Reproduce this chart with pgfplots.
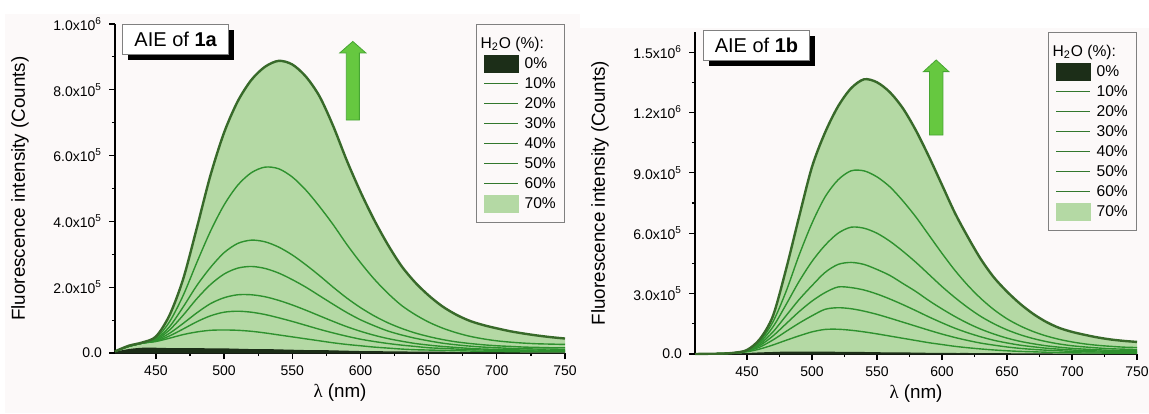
\documentclass[border=0pt]{standalone}
\usepackage{fontspec}
\setmainfont{Liberation Sans}
\newfontfamily\lamfont{Liberation Serif}
\usepackage{pgfplots}
\usepackage{pgfplotstable}
\pgfplotsset{compat=1.18}
\usetikzlibrary{shadows}

\definecolor{bgc}{RGB}{252,249,249}
\definecolor{fillg}{RGB}{180,217,164}
\definecolor{edgeg}{RGB}{56,106,42}
\definecolor{lineg}{RGB}{46,145,46}
\definecolor{legl}{RGB}{50,120,45}
\definecolor{darkf}{RGB}{28,46,24}
\definecolor{arrowg}{RGB}{102,200,64}
\definecolor{arrowe}{RGB}{70,165,50}
\definecolor{frameg}{RGB}{128,128,128}

% intensities in units of 10^6 counts; columns = H2O fraction
\pgfplotstableread{
lam s0 s10 s20 s30 s40 s50 s60 s70
420 .004 .005 .005 .005 .005 .005 .005 .005
430 .012 .020 .020 .020 .020 .020 .021 .022
440 .016 .030 .030 .030 .030 .030 .031 .032
450 .016 .035 .036 .038 .040 .042 .045 .050
460 .015 .045 .052 .060 .070 .080 .095 .115
470 .015 .056 .073 .090 .115 .140 .175 .225
480 .015 .064 .095 .122 .165 .205 .275 .380
490 .014 .069 .113 .150 .208 .260 .370 .540
500 .014 .070 .124 .168 .240 .305 .450 .670
510 .013 .069 .127 .177 .258 .333 .510 .765
520 .012 .066 .124 .177 .263 .343 .548 .830
530 .012 .061 .117 .171 .257 .338 .565 .870
540 .011 .055 .107 .160 .243 .322 .560 .888
550 .010 .049 .096 .146 .223 .298 .535 .877
560 .009 .043 .084 .130 .200 .268 .495 .840
570 .009 .037 .072 .113 .174 .235 .445 .780
580 .008 .031 .061 .096 .148 .200 .390 .690
590 .007 .026 .051 .080 .123 .167 .330 .585
600 .006 .022 .042 .066 .101 .138 .275 .490
610 .006 .018 .035 .054 .083 .113 .225 .405
620 .005 .015 .029 .044 .067 .092 .182 .330
630 .005 .012 .024 .036 .055 .075 .145 .265
640 .004 .010 .020 .029 .045 .061 .117 .215
650 .004 .009 .016 .024 .037 .050 .094 .175
660 .004 .008 .014 .020 .030 .041 .076 .142
670 .003 .007 .012 .017 .025 .034 .062 .117
680 .003 .006 .010 .014 .021 .029 .051 .098
690 .003 .005 .009 .012 .018 .025 .043 .085
700 .003 .005 .008 .011 .016 .022 .037 .075
710 .003 .004 .007 .010 .014 .020 .033 .066
720 .002 .004 .007 .009 .013 .018 .030 .059
730 .002 .004 .006 .009 .012 .017 .028 .053
740 .002 .004 .006 .008 .012 .016 .027 .048
750 .002 .004 .006 .008 .011 .016 .026 .044
}\taba

\pgfplotstableread{
lam s0 s10 s20 s30 s40 s50 s60 s70
410 .000 .000 .000 .000 .000 .000 .000 .000
420 .000 .001 .001 .001 .001 .001 .001 .001
430 .001 .002 .002 .002 .002 .002 .002 .002
440 .002 .004 .005 .006 .006 .006 .006 .006
450 .005 .011 .014 .016 .017 .018 .019 .020
460 .008 .025 .035 .043 .050 .058 .065 .075
470 .010 .045 .070 .090 .110 .135 .160 .190
480 .012 .068 .112 .150 .190 .245 .310 .420
490 .012 .090 .153 .210 .270 .360 .490 .680
500 .012 .110 .190 .263 .340 .460 .650 .930
510 .012 .122 .222 .305 .405 .540 .780 1.100
520 .011 .123 .230 .333 .445 .600 .865 1.230
530 .011 .118 .225 .330 .455 .630 .910 1.320
540 .010 .110 .213 .318 .445 .625 .910 1.365
550 .009 .100 .197 .298 .420 .600 .880 1.350
560 .008 .089 .178 .273 .390 .560 .830 1.300
570 .008 .078 .158 .245 .350 .510 .760 1.220
580 .007 .067 .138 .215 .310 .455 .680 1.110
590 .006 .056 .118 .184 .265 .395 .590 .980
600 .006 .047 .099 .155 .224 .335 .500 .840
610 .005 .038 .082 .128 .186 .280 .415 .700
620 .005 .031 .067 .105 .152 .230 .340 .580
630 .004 .025 .054 .085 .123 .186 .275 .470
640 .004 .020 .044 .068 .099 .150 .220 .380
650 .004 .016 .035 .055 .079 .120 .175 .310
660 .003 .013 .028 .044 .063 .096 .140 .250
670 .003 .011 .023 .036 .051 .077 .112 .200
680 .003 .009 .019 .029 .041 .062 .090 .160
690 .002 .007 .016 .024 .034 .050 .073 .130
700 .002 .006 .013 .020 .028 .041 .060 .110
710 .002 .005 .011 .017 .024 .035 .050 .095
720 .002 .005 .010 .015 .021 .030 .043 .082
730 .002 .004 .009 .013 .018 .026 .038 .072
740 .002 .004 .008 .012 .017 .024 .034 .065
750 .002 .004 .008 .011 .016 .022 .032 .060
}\tabb

\pgfplotsset{
  myaxis/.style={
    scale only axis,
    clip=false,
    axis lines*=left,
    axis line style={line width=0.7pt, black},
    tick align=outside,
    major tick length=3pt, minor tick length=1.6pt,
    every tick/.style={line width=0.6pt, black},
    xtick={450,500,...,750},
    minor x tick num=1,
    minor y tick num=1,
    xmax=750, ymin=0,
    tick label style={font=\fontsize{7}{8}\selectfont},
    /pgf/number format/assume math mode=true,
    xlabel={{\lamfont λ} (nm)},
    ylabel={Fluorescence intensity (Counts)},
    every axis x label/.style={at={(axis description cs:0.5,0)}, anchor=center, yshift=-20pt},
    every axis y label/.style={at={(axis description cs:0,0.5)}, xshift=-47.5pt, rotate=90, anchor=center},
    label style={font=\fontsize{9.4}{11}\selectfont},
    legend style={at={(rel axis cs:1,1)}, anchor=north east, draw=frameg, line width=0.6pt,
      fill=bgc, font=\fontsize{7.8}{8}\selectfont, inner xsep=3.5pt, inner ysep=4.5pt,
      row sep=0pt, cells={anchor=west},
      /tikz/every odd column/.append style={column sep=2pt},
      nodes={inner sep=0.8pt, text height=6.4pt, text depth=2pt}},
  },
  fillleg/.style={legend image code/.code={\fill[#1] (0pt,-4.25pt) rectangle (17pt,4.25pt);}},
  lineleg/.style={legend image code/.code={\draw[legl, line width=0.8pt] (0pt,0pt) -- (17pt,0pt);}},
}
\tikzset{
  aiebox/.style={draw=frameg, line width=0.5pt, fill=white, anchor=north west,
    minimum width=53pt, minimum height=15pt, inner sep=1pt, font=\fontsize{10}{12}\selectfont,
    drop shadow={shadow xshift=2.8pt, shadow yshift=-2.8pt, fill=black, opacity=1}},
}

\begin{document}
\begin{tikzpicture}
\path[use as bounding box] (0,0) rectangle (574.5pt,206.5pt);
\fill[bgc] (2.5pt,0) rectangle (290pt,199.5pt);
\fill[bgc] (290pt,0) rectangle (574.5pt,192.5pt);

% ---------------- 1a ----------------
\begin{axis}[myaxis, at={(57.5pt,30pt)}, anchor=south west, width=225pt, height=164.5pt,
  xmin=420, ymax=1.0,
  ytick={0,0.2,0.4,0.6,0.8,1.0},
  yticklabels={0.0, 2.0x10\textsuperscript{5}, 4.0x10\textsuperscript{5}, 6.0x10\textsuperscript{5}, 8.0x10\textsuperscript{5}, 1.0x10\textsuperscript{6}}]
\addplot[fill=fillg, draw=none, smooth, forget plot] table[x=lam,y=s70]{\taba} \closedcycle;
\addplot[fill=darkf, draw=none, smooth, forget plot] table[x=lam,y=s0]{\taba} \closedcycle;
\pgfplotsinvokeforeach{s10,s20,s30,s40,s50,s60}{
  \addplot[lineg, line width=0.7pt, smooth, forget plot] table[x=lam,y=#1]{\taba};
}
\addplot[edgeg, line width=1.2pt, smooth, forget plot] table[x=lam,y=s70]{\taba};

\addlegendimage{empty legend}
\addlegendentry{\makebox[0pt][l]{\hspace*{-22pt}H\textsubscript{2}O (\%):}}
\addlegendimage{fillleg=darkf}\addlegendentry{0\%}
\addlegendimage{lineleg}\addlegendentry{10\%}
\addlegendimage{lineleg}\addlegendentry{20\%}
\addlegendimage{lineleg}\addlegendentry{30\%}
\addlegendimage{lineleg}\addlegendentry{40\%}
\addlegendimage{lineleg}\addlegendentry{50\%}
\addlegendimage{lineleg}\addlegendentry{60\%}
\addlegendimage{fillleg=fillg}\addlegendentry{70\%}

\draw[arrowe, fill=arrowg, line width=0.4pt]
  (axis cs:589.6,0.708) -- (axis cs:589.6,0.912) -- (axis cs:584.8,0.912) -- (axis cs:594.4,0.947)
  -- (axis cs:604.0,0.912) -- (axis cs:599.2,0.912) -- (axis cs:599.2,0.708) -- cycle;
\node[aiebox] at (rel axis cs:0.016,1.0) {AIE of \textbf{1a}};
\end{axis}

% ---------------- 1b ----------------
\begin{axis}[myaxis, at={(347.5pt,29.5pt)}, anchor=south west, width=221pt, height=161pt,
  xmin=410, ymax=1.6,
  ytick={0,0.3,0.6,0.9,1.2,1.5},
  yticklabels={0.0, 3.0x10\textsuperscript{5}, 6.0x10\textsuperscript{5}, 9.0x10\textsuperscript{5}, 1.2x10\textsuperscript{6}, 1.5x10\textsuperscript{6}}]
\addplot[fill=fillg, draw=none, smooth, forget plot] table[x=lam,y=s70]{\tabb} \closedcycle;
\addplot[fill=darkf, draw=none, smooth, forget plot] table[x=lam,y=s0]{\tabb} \closedcycle;
\pgfplotsinvokeforeach{s10,s20,s30,s40,s50,s60}{
  \addplot[lineg, line width=0.7pt, smooth, forget plot] table[x=lam,y=#1]{\tabb};
}
\addplot[edgeg, line width=1.2pt, smooth, forget plot] table[x=lam,y=s70]{\tabb};

\addlegendimage{empty legend}
\addlegendentry{\makebox[0pt][l]{\hspace*{-22pt}H\textsubscript{2}O (\%):}}
\addlegendimage{fillleg=darkf}\addlegendentry{0\%}
\addlegendimage{lineleg}\addlegendentry{10\%}
\addlegendimage{lineleg}\addlegendentry{20\%}
\addlegendimage{lineleg}\addlegendentry{30\%}
\addlegendimage{lineleg}\addlegendentry{40\%}
\addlegendimage{lineleg}\addlegendentry{50\%}
\addlegendimage{lineleg}\addlegendentry{60\%}
\addlegendimage{fillleg=fillg}\addlegendentry{70\%}

\draw[arrowe, fill=arrowg, line width=0.4pt]
  (axis cs:590.3,1.088) -- (axis cs:590.3,1.403) -- (axis cs:585.7,1.403) -- (axis cs:595.5,1.461)
  -- (axis cs:605.3,1.403) -- (axis cs:600.7,1.403) -- (axis cs:600.7,1.088) -- cycle;
\node[aiebox] at (rel axis cs:0.018,1.006) {AIE of \textbf{1b}};
\end{axis}
\end{tikzpicture}
\end{document}
